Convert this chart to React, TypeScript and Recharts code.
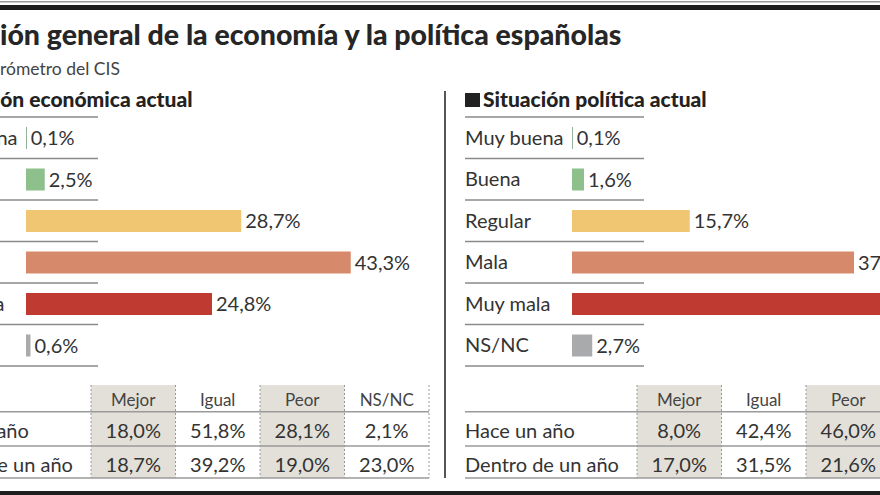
import React from 'react';
import { BarChart, Bar, XAxis, YAxis, Cell, LabelList } from 'recharts';

const categories = ['Muy buena', 'Buena', 'Regular', 'Mala', 'Muy mala', 'NS/NC'];
const economicValues = [0.1, 2.5, 28.7, 43.3, 24.8, 0.6];
const politicalValues = [0.1, 1.6, 15.7, 37.6, 42.3, 2.7];
const barColors = ['#6f9a78', '#8dc08b', '#f0c673', '#d78a6b', '#bf3a31', '#a9aaab'];

const tableColumns = ['Mejor', 'Igual', 'Peor', 'NS/NC'];
const tableRows = ['Hace un año', 'Dentro de un año'];
const economicPast = [18.0, 51.8, 28.1, 2.1];
const economicFuture = [18.7, 39.2, 19.0, 23.0];
const politicalPast = [8.0, 42.4, 46.0, 3.6];
const politicalFuture = [17.0, 31.5, 21.6, 29.9];

const FONT = 'Lato, sans-serif';
const TEXT = '#333';

const fmt = (v: number) => v.toFixed(1).replace('.', ',') + '%';

const CatTick = ({ y, payload }: any) => (
  <text x={0} y={y} dy="0.35em" textAnchor="start" fontFamily={FONT} fontSize={20} fill={TEXT}>
    {payload.value}
  </text>
);

const ValueLabel = ({ x, y, width, height, value }: any) => (
  <text x={x + width + 4} y={y + height / 2} dy="0.35em" fontFamily={FONT} fontSize={20} fill={TEXT}>
    {fmt(value)}
  </text>
);

const Situation = ({ values }: { values: number[] }) => {
  const data = categories.map((name, i) => ({ name, value: values[i] }));
  return (
    <BarChart layout="vertical" width={557} height={249} data={data}
      margin={{ top: 0, right: 0, left: 0, bottom: 0 }}>
      <XAxis type="number" domain={[0, 60]} hide />
      <YAxis type="category" dataKey="name" width={107} axisLine={false} tickLine={false}
        interval={0} tick={<CatTick />} />
      <Bar dataKey="value" barSize={22} isAnimationActive={false}>
        {data.map((d, i) => <Cell key={d.name} fill={barColors[i]} />)}
        <LabelList dataKey="value" content={<ValueLabel />} />
      </Bar>
    </BarChart>
  );
};

// static parts of a panel: heading, row rules, comparison table
const PanelFrame = ({ x, heading, past, future }: any) => {
  const colX = 172, colW = 84.5, top = 385, bottom = 478;
  const rowBase = [437.5, 471.5];
  return (
    <g transform={`translate(${x},0)`}>
      <rect x={0} y={93} width={15} height={14} fill="#222" />
      <text x={18} y={107} fontFamily={FONT} fontWeight={900} fontSize={21} fill="#222">{heading}</text>
      {categories.concat(['']).map((c, i) => (
        <line key={i} x1={0} x2={179} y1={117 + i * 41.5} y2={117 + i * 41.5} stroke="#8a8a8a" strokeWidth={1.5} />
      ))}
      {tableColumns.map((c, i) => i % 2 === 0 && (
        <rect key={c} x={colX + i * colW} y={top} width={colW} height={bottom - top} fill="#e2e0d8" />
      ))}
      {[411.7, 446, 478].map((y) => (
        <line key={y} x1={0} x2={colX + 4 * colW} y1={y} y2={y} stroke="#9a9a9a" strokeWidth={1.5} />
      ))}
      {[0, 1, 2, 3, 4].map((i) => (
        <line key={i} x1={colX + i * colW} x2={colX + i * colW} y1={top} y2={bottom}
          stroke="#999" strokeWidth={1} strokeDasharray="2 2" />
      ))}
      {tableColumns.map((c, i) => (
        <text key={c} x={colX + i * colW + colW / 2} y={406} textAnchor="middle"
          fontFamily={FONT} fontSize={17} fill="#444">{c}</text>
      ))}
      {tableRows.map((r, ri) => (
        <g key={r}>
          <text x={0} y={rowBase[ri]} fontFamily={FONT} fontSize={20} fill={TEXT}>{r}</text>
          {(ri === 0 ? past : future).map((v: number, i: number) => (
            <text key={i} x={colX + i * colW + colW / 2} y={rowBase[ri]} textAnchor="middle"
              fontFamily={FONT} fontSize={20} fill={TEXT}>{fmt(v)}</text>
          ))}
        </g>
      ))}
    </g>
  );
};

export default function App() {
  return (
    <div style={{ position: 'absolute', left: 0, top: 0, width: 880, height: 495, overflow: 'hidden', background: '#fff' }}>
      <svg width={880} height={495} style={{ position: 'absolute', left: 0, top: 0 }}>
        <rect x={0} y={1} width={880} height={1.5} fill="#9a9a9a" />
        <rect x={0} y={5} width={880} height={5} fill="#1e1e1e" />
        <text x={0} y={45} fontFamily={FONT} fontWeight={900} fontSize={28.5} fill="#262626">
          ión general de la economía y la política españolas
        </text>
        <text x={0} y={75} fontFamily={FONT} fontSize={17.5} fill="#444">rómetro del CIS</text>
        <PanelFrame x={-81} heading="Situación económica actual" past={economicPast} future={economicFuture} />
        <PanelFrame x={465} heading="Situación política actual" past={politicalPast} future={politicalFuture} />
        <line x1={445} x2={445} y1={91} y2={478} stroke="#555" strokeWidth={2} />
        <rect x={0} y={491} width={880} height={4} fill="#1e1e1e" />
      </svg>
      <div style={{ position: 'absolute', left: -81, top: 117 }}>
        <Situation values={economicValues} />
      </div>
      <div style={{ position: 'absolute', left: 465, top: 117 }}>
        <Situation values={politicalValues} />
      </div>
    </div>
  );
}
